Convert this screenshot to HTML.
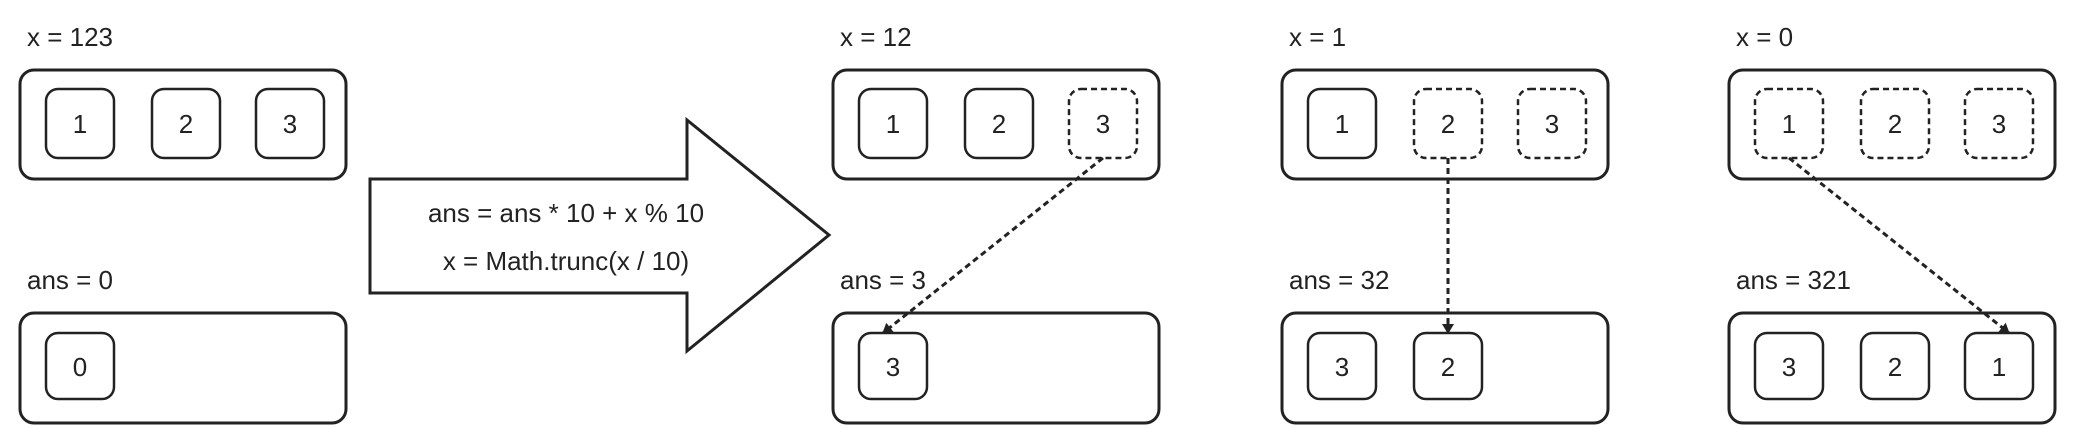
<!DOCTYPE html>
<html><head><meta charset="utf-8"><style>
html,body{margin:0;padding:0;background:#fff;}
svg{display:block;font-family:"Liberation Sans",sans-serif;}
</style></head><body>
<svg id="s" width="2080" height="428" viewBox="0 0 2080 428">
<defs><marker id="ah" markerWidth="10" markerHeight="12" refX="9" refY="6" orient="auto" markerUnits="userSpaceOnUse"><path d="M0,0 L10,6 L0,12 Z" fill="#222"/></marker></defs>
<g>
<path d="M370,179 L687,179 L687,120 L829,235 L687,351 L687,293 L370,293 Z" fill="#fff" stroke="#222" stroke-width="3" stroke-linejoin="miter"/>
<text x="566" y="222" font-size="26" text-anchor="middle" fill="#222">ans = ans * 10 + x % 10</text>
<text x="566" y="270" font-size="26" text-anchor="middle" fill="#222">x = Math.trunc(x / 10)</text>
</g>
</svg>
<script>
const panelX=[20,833,1282,1729];
const xLabels=["x = 123","x = 12","x = 1","x = 0"];
const ansLabels=["ans = 0","ans = 3","ans = 32","ans = 321"];
const digitsTop=["1","2","3"];
const dashedCount=[0,1,2,3];
const ansDigits=[["0"],["3"],["3","2"],["3","2","1"]];
const slotX=[26,132,236];
const moveFrom=[null,2,1,0];
const moveTo=[null,0,1,2];
const NS="http://www.w3.org/2000/svg";
const svg=document.getElementById('s');
function el(t,a,p){const e=document.createElementNS(NS,t);for(const k in a)e.setAttribute(k,a[k]);(p||svg).appendChild(e);return e;}
function box(g,x,y,w,h,r,dashed,sw){const e=el('rect',{x:x,y:y,width:w,height:h,rx:r,fill:'#fff',stroke:'#222','stroke-width':sw},g);if(dashed)e.setAttribute('stroke-dasharray','6 4');return e;}
panelX.forEach((px,i)=>{
  const g=el('g',{});
  
  
  const t1=el('text',{x:px+7,y:46,'font-size':26,fill:'#222'},g);t1.textContent=xLabels[i];
  
  
  const t2=el('text',{x:px+7,y:289,'font-size':26,fill:'#222'},g);t2.textContent=ansLabels[i];
  
  
  const bt=box(g,px,70,326,109,14,false,3);
  
  
  const bb=box(g,px,313,326,110,14,false,3);
  
  
  digitsTop.forEach((d,j)=>{
    const dashed=j>=3-dashedCount[i];
    const c=box(g,px+slotX[j],89,68,69,12,dashed,2.5);
    
    
    const t=el('text',{x:px+slotX[j]+34,y:133,'font-size':26,'text-anchor':'middle',fill:'#222'},g);t.textContent=d;
  });
  ansDigits[i].forEach((d,j)=>{
    const c=box(g,px+slotX[j],333,68,66,12,false,2.5);
    
    
    const t=el('text',{x:px+slotX[j]+34,y:376,'font-size':26,'text-anchor':'middle',fill:'#222'},g);t.textContent=d;
  });
  if(moveFrom[i]!==null){
    const x1=px+slotX[moveFrom[i]]+34,x2=px+slotX[moveTo[i]]+34+(moveTo[i]===moveFrom[i]?0:(moveTo[i]<moveFrom[i]?-10:10));
    const l=el('line',{x1:x1,y1:158,x2:x2,y2:333,stroke:'#222','stroke-width':3,'stroke-dasharray':'6 4','marker-end':'url(#ah)'},g);
    
    
  }
});
</script>
</body></html>
